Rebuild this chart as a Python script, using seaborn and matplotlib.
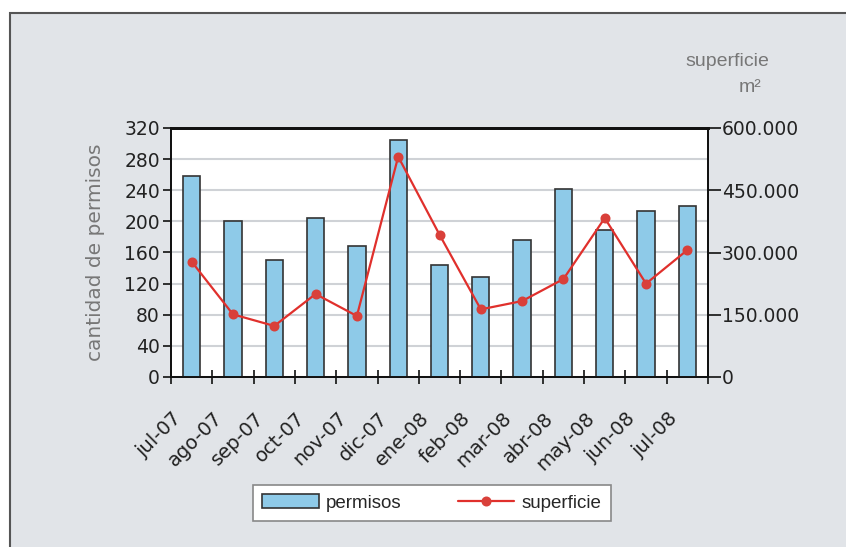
import numpy as np
import pandas as pd
import seaborn as sns
import matplotlib.pyplot as plt
import matplotlib.transforms as mtransforms
from matplotlib.patches import Rectangle
from matplotlib.ticker import FuncFormatter, FixedLocator

# Datos
meses = ['jul-07', 'ago-07', 'sep-07', 'oct-07', 'nov-07', 'dic-07', 'ene-08',
         'feb-08', 'mar-08', 'abr-08', 'may-08', 'jun-08', 'jul-08']
permisos = [258, 200, 150, 204, 168, 304, 144, 129, 176, 241, 189, 213, 220]
superficie = [278000, 151000, 123000, 200000, 147000, 531000, 343000,
              163000, 183000, 236000, 383000, 225000, 306000]

df = pd.DataFrame({'mes': meses, 'permisos': permisos, 'superficie': superficie})

sns.set_style('white')
plt.rcParams['font.family'] = ['Liberation Sans', 'DejaVu Sans']
ancho = ['DejaVu Sans']  # fuente mas ancha para los ejes

fig = plt.figure(figsize=(8.46, 5.47), dpi=100)
fig.patch.set_facecolor('white')
# marco gris de fondo
fig.patches.append(Rectangle((10 / 846, -0.05), 1.1, 1 - 13 / 547 + 0.05,
                             transform=fig.transFigure, facecolor='#e1e4e8',
                             edgecolor='#555555', linewidth=1.5, zorder=-10))

ax = fig.add_axes([171 / 846, 1 - 377 / 547, (708 - 171) / 846, (377 - 128) / 547])
ax.set_facecolor('white')

sns.barplot(data=df, x='mes', y='permisos', color='#8ecae8', edgecolor='#333333',
            linewidth=1.2, width=0.42, saturation=1, ax=ax, zorder=3,
            label='permisos')

ax2 = ax.twinx()
sns.pointplot(data=df, x='mes', y='superficie', color='#e0302c', markers='o',
              markersize=6, linewidth=1.6, ax=ax2, label='superficie')
for ln in ax2.lines:
    ln.set_markerfacecolor('#d9403a')
    ln.set_markeredgecolor('#d9403a')

ax.set_ylim(0, 320)
ax.set_yticks(np.arange(0, 321, 40))
ax2.set_ylim(0, 600000)
ax2.set_yticks(np.arange(0, 600001, 150000))
ax2.yaxis.set_major_formatter(FuncFormatter(lambda v, p: '0' if v == 0 else f'{int(v):,}'.replace(',', '.')))
ax.set_xlim(-0.5, len(meses) - 0.5)

ax.grid(axis='y', color='#cfd2d6', linewidth=1.5, zorder=0)
ax.set_axisbelow(True)

for a in (ax, ax2):
    for s in a.spines.values():
        s.set_color('#111111')
        s.set_linewidth(1.3)
    a.spines['top'].set_linewidth(2)

ax.tick_params(axis='y', length=6, width=1.2, color='#111111', pad=2, left=True)
ax2.tick_params(axis='y', length=9, width=1.2, color='#111111', pad=1, right=True)
for t in ax.get_yticklabels() + ax2.get_yticklabels():
    t.set_family(ancho)
    t.set_fontsize(13.5)
    t.set_color('#222222')

ax.set_xticks(range(len(meses)))
ax.set_xticklabels(meses, rotation=45, ha='right', rotation_mode='anchor',
                   fontsize=14, color='#222222', family=ancho)
ax.tick_params(axis='x', which='major', length=0, pad=14)
desplaza = mtransforms.ScaledTranslation(-20 / 100, -12 / 100, fig.dpi_scale_trans)
for t in ax.get_xticklabels():
    t.set_transform(t.get_transform() + desplaza)
ax.xaxis.set_minor_locator(FixedLocator(np.arange(-0.5, len(meses), 1.0)))
ax.tick_params(axis='x', which='minor', direction='inout', length=10, width=1.2,
               color='#111111', bottom=True)

ax.set_xlabel('')
ax.set_ylabel('cantidad de permisos', fontsize=14.5, color='#777777', labelpad=14,
              family=ancho)
ax2.set_ylabel('')

fig.text(727 / 846, 1 - 62 / 547, 'superficie', fontsize=14, color='#777777',
         ha='center', va='center')
fig.text(750 / 846, 1 - 87 / 547, 'm²', fontsize=14, color='#777777',
         ha='center', va='center')

h1, l1 = ax.get_legend_handles_labels()
h2, l2 = ax2.get_legend_handles_labels()
leg = fig.legend(h1 + h2, l1 + l2, loc='center', bbox_to_anchor=(432 / 846, 1 - 503 / 547),
                 ncol=2, frameon=True, fancybox=False, fontsize=13.5, framealpha=1,
                 columnspacing=3, handlelength=3, borderpad=0.5, handletextpad=0.4)
leg.get_frame().set_edgecolor('#888888')
leg.get_frame().set_facecolor('white')
leg.get_frame().set_linewidth(1.2)
if ax2.get_legend():
    ax2.get_legend().remove()
if ax.get_legend():
    ax.get_legend().remove()

fig.savefig('out.png', dpi=100, facecolor=fig.get_facecolor())
